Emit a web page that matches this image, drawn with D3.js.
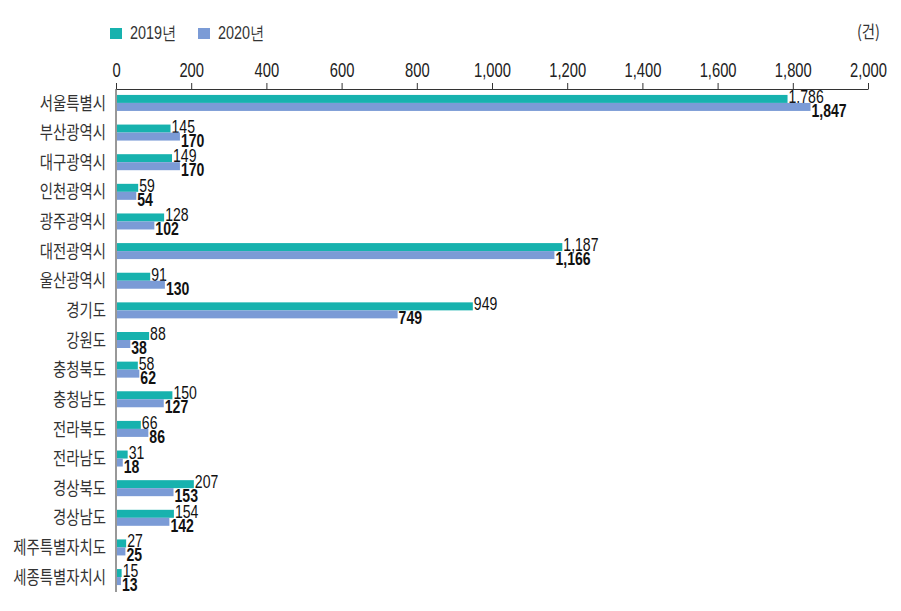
<!DOCTYPE html>
<html><head><meta charset="utf-8">
<script src="https://cdn.jsdelivr.net/npm/d3@7/dist/d3.min.js"></script>
<style>body{margin:0;background:#fff}svg{display:block}</style>
</head><body>
<svg id="c" width="901" height="611"></svg>
<script>
const categories = ["서울특별시","부산광역시","대구광역시","인천광역시","광주광역시","대전광역시","울산광역시","경기도","강원도","충청북도","충청남도","전라북도","전라남도","경상북도","경상남도","제주특별자치도","세종특별자치시"];
const values2019 = [1786,145,149,59,128,1187,91,949,88,58,150,66,31,207,154,27,15];
const values2020 = [1847,170,170,54,102,1166,130,749,38,62,127,86,18,153,142,25,13];
const seriesNames = ["2019년","2020년"];
const tickValues = [0,200,400,600,800,1000,1200,1400,1600,1800,2000];
const unitLabel = "(건)";

const colors = ["#17b2ae","#7b9bd6"];
const numFont = "'Liberation Sans',Arial,sans-serif";
const krFont = "'Noto Sans CJK KR','Noto Sans',sans-serif";

const svg = d3.select("#c");
const x = d3.scaleLinear().domain([0,2000]).range([116,868]);
const y = d3.scaleBand().domain(categories).range([89,591]).paddingInner(0.46).paddingOuter(0.2);
const sub = d3.scaleBand().domain([0,1]).range([0,y.bandwidth()]);
const fmt = d3.format(",");

// axis
const axis = d3.axisTop(x).tickValues(tickValues).tickSize(6).tickSizeOuter(0).tickFormat(fmt);
const ag = svg.append("g").attr("transform","translate(0,89)").call(axis);
ag.select(".domain").attr("stroke","#333").attr("stroke-width",1);
ag.selectAll(".tick line").attr("stroke","#333");
ag.selectAll(".tick text").attr("font-family",numFont).attr("font-size",20.5).attr("fill","#222")
  .attr("y",-12).attr("dy",0).attr("transform","scale(0.72,1)");

// vertical baseline
svg.append("line").attr("x1",x(0)).attr("x2",x(0)).attr("y1",89).attr("y2",592).attr("stroke","#333");

// category labels
svg.append("g").selectAll("text").data(categories).join("text")
  .attr("transform",d=>`translate(106,${y(d)+y.bandwidth()/2}) scale(0.8,1)`)
  .attr("dy","0.37em")
  .attr("text-anchor","end").attr("font-family",krFont).attr("font-size",18).attr("fill","#333")
  .text(d=>d);

const series = [values2019, values2020];
series.forEach((vals,si)=>{
  const g = svg.append("g");
  g.selectAll("rect").data(vals).join("rect")
    .attr("x",x(0)+1).attr("y",(d,i)=>y(categories[i])+sub(si))
    .attr("width",d=>x(d)-x(0)-1).attr("height",sub.bandwidth())
    .attr("fill",colors[si]);
  g.selectAll("text").data(vals).join("text")
    .attr("transform",(d,i)=>`translate(${x(d)+1},${y(categories[i])+sub(si)+sub.bandwidth()+(si===0?0:6)}) scale(0.76,1)`)
    .attr("font-family",numFont).attr("font-size",18.5)
    .attr("font-weight",si===1?"bold":"normal")
    .attr("fill","#111").text(d=>fmt(d));
});

// legend
const lg = svg.append("g");
seriesNames.forEach((n,i)=>{
  const lx = [110,198][i];
  lg.append("rect").attr("x",lx).attr("y",28).attr("width",12).attr("height",11).attr("fill",colors[i]);
  lg.append("text").attr("transform",`translate(${lx+20},39) scale(0.8,1)`)
    .attr("font-family",numFont).attr("font-size",18).attr("fill","#333").text(n);
});
svg.append("text").attr("transform","translate(880,38) scale(0.85,1)").attr("text-anchor","end")
  .attr("font-family",krFont).attr("font-size",17).attr("fill","#333").text(unitLabel);
</script>
</body></html>
